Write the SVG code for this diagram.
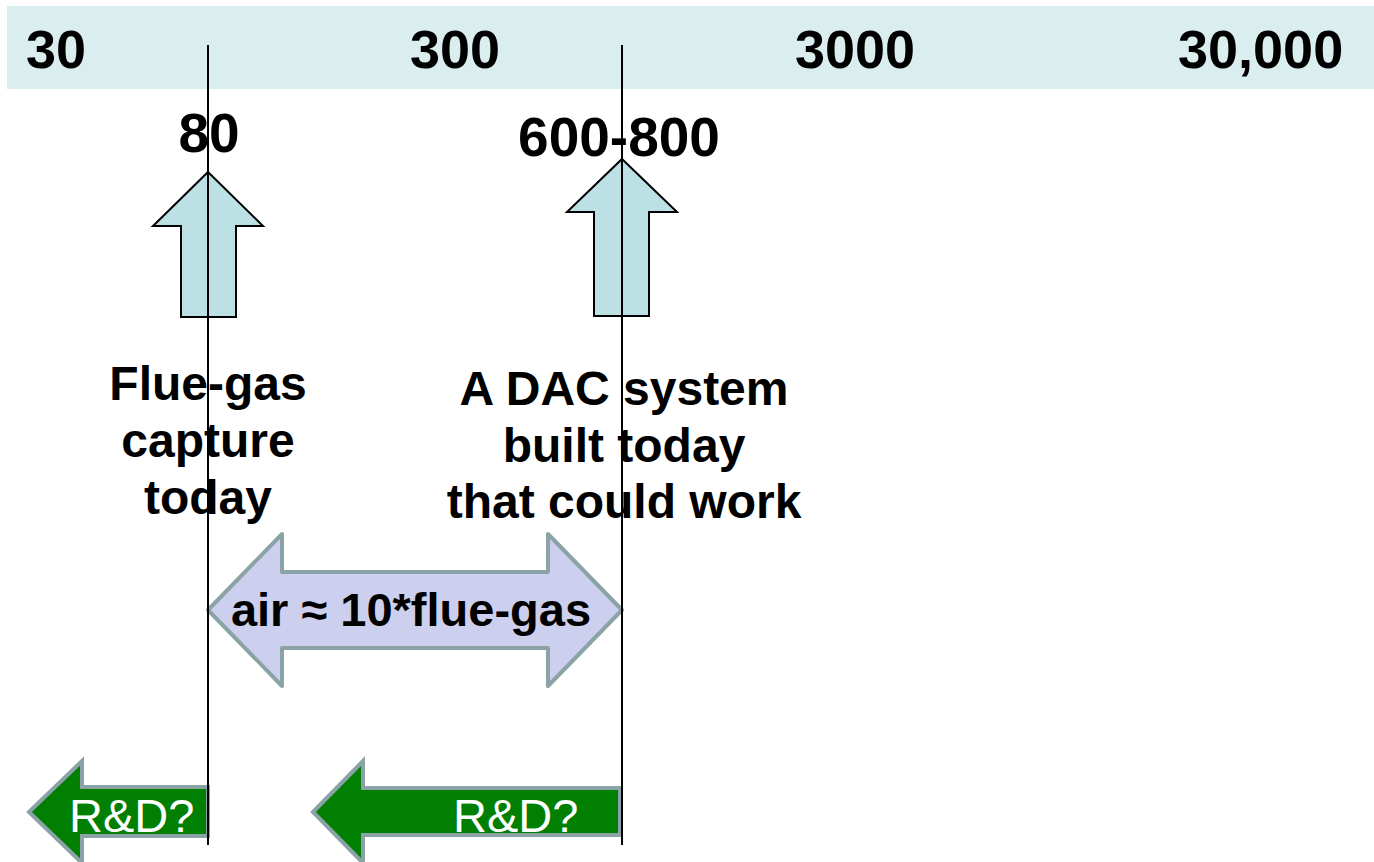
<svg xmlns="http://www.w3.org/2000/svg" width="1374" height="862" viewBox="0 0 1374 862">
<style>
text{font-family:"Liberation Sans",Arial,sans-serif;}
.b{font-weight:bold;fill:#000;}
.top{font-size:54px;}
.lbl{font-size:48px;text-anchor:middle;}
.num{font-size:55px;text-anchor:middle;}
.up{fill:#BCE0E4;stroke:#000;stroke-width:2;}
.dbl{fill:#CDCFEE;stroke:#8BA3A6;stroke-width:4;stroke-linejoin:round;}
.rd{fill:#007F00;stroke:#8BA3A6;stroke-width:4;}
.rdt{font-size:47px;fill:#fff;}
.guide{stroke:#000;stroke-width:2;fill:none;}
</style>
<rect width="1374" height="862" fill="#fff"/>
<g id="scale">
<rect x="7" y="6" width="1367" height="83" fill="#DAEDEF"/>
<text class="b top" x="26" y="68">30</text>
<text class="b top" x="410" y="68">300</text>
<text class="b top" x="795" y="68">3000</text>
<text class="b top" x="1178" y="68">30,000</text>
</g>
<g id="flue-gas">
<text class="b num" x="209" y="152">80</text>
<polygon class="up" points="208,172 263,226 236,226 236,317 181,317 181,226 153,226"/>
<text class="b lbl" x="208" y="400">Flue-gas</text>
<text class="b lbl" x="208" y="457">capture</text>
<text class="b lbl" x="208" y="514">today</text>
</g>
<g id="dac">
<text class="b num" x="619" y="156">600-800</text>
<polygon class="up" points="622,159 677,212 649,212 649,316 594,316 594,212 567,212"/>
<text class="b lbl" x="624" y="405">A DAC system</text>
<text class="b lbl" x="624" y="462">built today</text>
<text class="b lbl" x="624" y="518">that could work</text>
</g>
<g id="ratio">
<polygon class="dbl" points="208,610 282,534 282,572 548,572 548,534 622,610 548,686 548,648 282,648 282,686"/>
<text class="b" x="411" y="626" font-size="47" text-anchor="middle">air ≈ 10*flue-gas</text>
</g>
<g id="rd-left">
<polygon class="rd" points="29,812 82,761 82,787 208,787 208,836 82,836 82,863"/>
<text class="rdt" x="69" y="832">R&amp;D?</text>
</g>
<g id="rd-right">
<polygon class="rd" points="313,812 363,761 363,788 620,788 620,835 363,835 363,863"/>
<text class="rdt" x="453" y="832">R&amp;D?</text>
</g>
<g id="connectors">
<line class="guide" x1="208" y1="45" x2="208" y2="845"/>
<line class="guide" x1="622" y1="45" x2="622" y2="845"/>
</g>
</svg>
